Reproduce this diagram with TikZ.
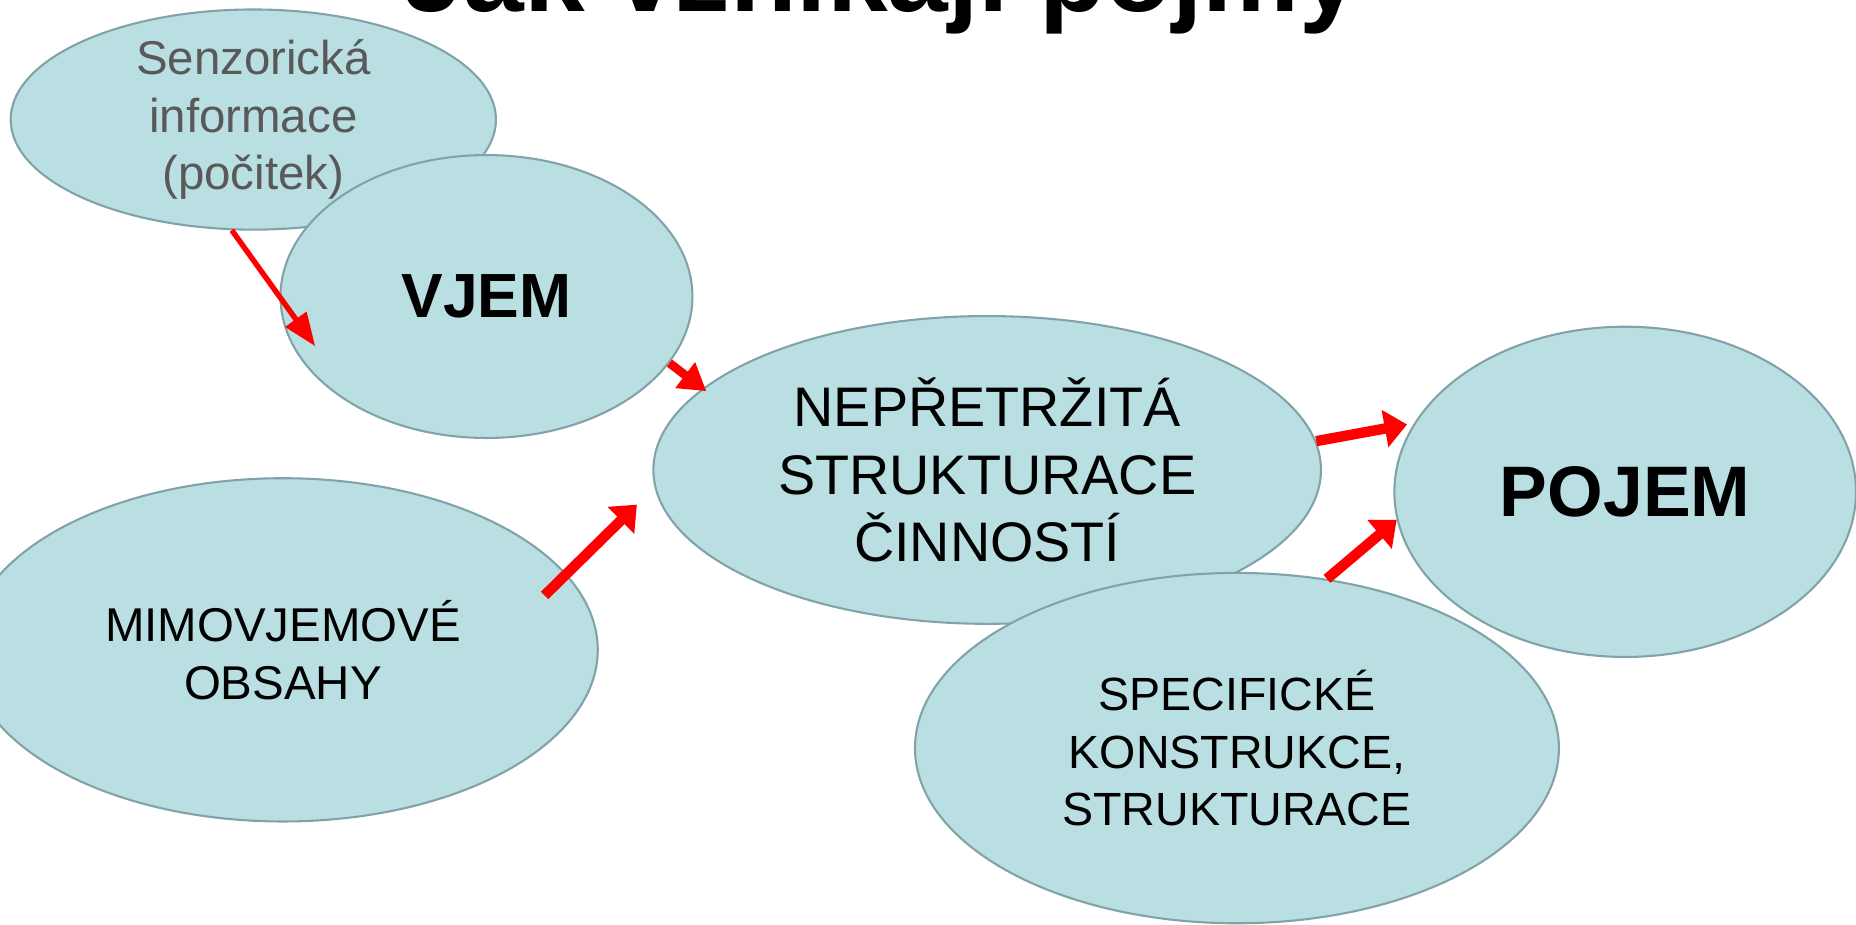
\documentclass[tikz,border=0pt]{standalone}
\usepackage{fontspec}
\setmainfont{Liberation Sans}
\usetikzlibrary{shapes.geometric,arrows.meta,calc}
\definecolor{fond}{RGB}{185,223,226}
\definecolor{bord}{RGB}{128,162,168}
\definecolor{gris}{RGB}{89,89,89}
\definecolor{rouge}{RGB}{255,0,0}
\begin{document}
\begin{tikzpicture}[
	bulle/.style={ellipse,draw=bord,line width=0.5pt,fill=fond,inner sep=0pt,align=center},
	petit/.style={font=\fontsize{11.4}{13.9}\selectfont},
	fleche/.style={draw=rouge,line width=2.5pt,-{Triangle[length=5.4pt,width=8.8pt]}},
	flechemoy/.style={draw=rouge,line width=2.1pt,-{Triangle[length=6.4pt,width=7.4pt]}},
	flechefine/.style={draw=rouge,line width=1.3pt,-{Triangle[length=8pt,width=6pt]}}]
	\useasboundingbox (0,0) rectangle (15.68,7.81);
	\clip (0,0) rectangle (15.68,7.81);
	\node[bulle,minimum width=4.10cm,minimum height=1.86cm] (senz) at (2.14,6.80) {};
	\node[bulle,minimum width=3.48cm,minimum height=2.39cm,font=\fontsize{15}{18}\selectfont\bfseries] (vjem) at (4.11,5.305) {VJEM};
	\node[petit,text=gris,align=center] (senztxt) at (senz) {Senzorická\\informace\\(počitek)};
	\node[bulle,minimum width=5.32cm,minimum height=2.90cm,petit] (mimo) at (2.39,2.32) {MIMOVJEMOVÉ\\OBSAHY};
	\node[bulle,minimum width=5.64cm,minimum height=2.60cm,font=\fontsize{13.4}{16.2}\selectfont] (nepr) at (8.34,3.84) {NEPŘETRŽITÁ\\STRUKTURACE\\ČINNOSTÍ};
	\node[bulle,minimum width=5.44cm,minimum height=2.96cm,font=\fontsize{11.2}{13.8}\selectfont] (spec) at (10.45,1.49) {SPECIFICKÉ\\KONSTRUKCE,\\STRUKTURACE};
	\node[bulle,minimum width=3.90cm,minimum height=2.79cm,font=\fontsize{17.2}{20}\selectfont\bfseries] (pojem) at (13.73,3.655) {POJEM};
	\node[font=\fontsize{26.2}{31}\selectfont\bfseries,anchor=base] (titre) at (7.45,7.71) {Jak vznikají pojmy};
	\draw[flechefine] (senz.259) -- ($(senz.259)!1.75!(vjem.west)$);
	\draw[flechemoy,shorten >=-0.04cm] (vjem.340) -- (nepr.164);
	\draw[fleche] ($(mimo.15)!-0.25!(nepr.183)$) -- ($(mimo.15)!0.8!(nepr.183)$);
	\draw[fleche,shorten >=0.06cm] (nepr.5) -- (pojem.162);
	\draw[fleche] (spec.62) -- (pojem.187);
\end{tikzpicture}
\end{document}
